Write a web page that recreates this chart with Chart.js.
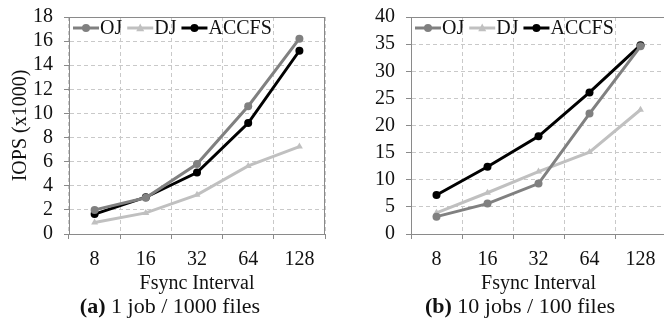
<!DOCTYPE html>
<html>
<head>
<meta charset="utf-8">
<script src="https://cdn.jsdelivr.net/npm/chart.js@4/dist/chart.umd.min.js"></script>
<style>
  html, body { margin:0; padding:0; overflow:hidden; }
  body { width:664px; height:329px; background:#fff; position:relative; }
  .box { position:absolute; top:0; height:300px; overflow:hidden; }
  .box canvas { display:block; }
  .cap { position:absolute; top:295px; font-family:"Liberation Serif"; font-size:22px; line-height:22px; color:#111; white-space:nowrap; transform:translateX(-50%); }
</style>
</head>
<body>
<div class="box" style="left:0;width:332px"><canvas id="ca" width="340" height="300"></canvas></div>
<div class="box" style="left:332px;width:332px"><canvas id="cb" width="340" height="300"></canvas></div>
<div class="cap" style="left:170px"><b>(a)</b> 1 job / 1000 files</div>
<div class="cap" style="left:520px"><b>(b)</b> 10 jobs / 100 files</div>
<script>
const categories = ['8', '16', '32', '64', '128'];
const seriesNames = ['OJ', 'DJ', 'ACCFS'];
// (a) 1 job / 1000 files, IOPS (x1000)
const ojA    = [2.0, 3.0, 5.8, 10.6, 16.2];
const djA    = [0.95, 1.75, 3.25, 5.65, 7.25];
const accfsA = [1.65, 3.05, 5.1, 9.2, 15.2];
// (b) 10 jobs / 100 files
const ojB    = [3.2, 5.6, 9.3, 22.2, 34.6];
const djB    = [3.9, 7.6, 11.5, 15.1, 22.9];
const accfsB = [7.2, 12.4, 18.0, 26.1, 34.8];
const yTicksA = {min: 0, max: 18, step: 2};
const yTicksB = {min: 0, max: 40, step: 5};

const colors = ['#808080', '#c0c0c0', '#000000'];
const styles = ['circle', 'triangle', 'circle'];
const AXIS = '#8a8a8a';
const GRID = '#c9c9c9';
const FONT = '"Liberation Serif"';
const FS = 20;

function drawMarker(ctx, style, x, y, r, color) {
  ctx.fillStyle = color;
  ctx.beginPath();
  if (style === 'triangle') {
    ctx.moveTo(x, y - r * 1.1);
    ctx.lineTo(x + r, y + r * 0.8);
    ctx.lineTo(x - r, y + r * 0.8);
    ctx.closePath();
  } else {
    ctx.arc(x, y, r, 0, Math.PI * 2);
  }
  ctx.fill();
}

function framePlugin(drawRight) {
  return {
    id: 'frame',
    beforeDatasetsDraw(chart) {
      const {ctx, chartArea: a} = chart;
      ctx.save();
      ctx.strokeStyle = AXIS;
      ctx.lineWidth = 1;
      ctx.beginPath();
      ctx.moveTo(a.left, a.top + 0.5);
      ctx.lineTo(a.right, a.top + 0.5);
      if (drawRight) {
        ctx.moveTo(a.right - 0.5, a.top);
        ctx.lineTo(a.right - 0.5, a.bottom);
      }
      ctx.stroke();
      ctx.restore();
    }
  };
}

const legendPlugin = {
  id: 'inLegend',
  afterDatasetsDraw(chart) {
    const {ctx, chartArea: a} = chart;
    let x = a.left + 4;
    const y = a.top + 11;
    ctx.save();
    ctx.font = FS + 'px ' + FONT;
    ctx.textBaseline = 'middle';
    ctx.textAlign = 'left';
    chart.data.datasets.forEach((ds, i) => {
      ctx.strokeStyle = ds.borderColor;
      ctx.lineWidth = 3;
      ctx.beginPath();
      ctx.moveTo(x, y);
      ctx.lineTo(x + 26, y);
      ctx.stroke();
      drawMarker(ctx, ds.pointStyle, x + 13, y, 4, ds.borderColor);
      ctx.fillStyle = '#111';
      ctx.fillText(ds.label, x + 27, y + 1);
      x += 27 + ctx.measureText(ds.label).width + 5;
    });
    ctx.restore();
  }
};

function makeChart(id, series, yt, yWidth, padRight, yTitle, drawRight) {
  const datasets = series.map((vals, i) => ({
    label: seriesNames[i],
    data: vals,
    borderColor: colors[i],
    backgroundColor: colors[i],
    borderWidth: 3,
    pointStyle: styles[i],
    pointRadius: 4,
    pointBorderWidth: 0,
    pointBackgroundColor: colors[i],
    tension: 0
  }));
  return new Chart(document.getElementById(id), {
    type: 'line',
    data: { labels: categories, datasets },
    plugins: [framePlugin(drawRight), legendPlugin],
    options: {
      responsive: false,
      animation: false,
      layout: { padding: { left: 0, right: padRight, top: 17, bottom: 0 } },
      plugins: { legend: { display: false }, tooltip: { enabled: false } },
      scales: {
        x: {
          type: 'category',
          offset: true,
          grid: { offset: true, color: GRID, tickColor: AXIS, tickLength: 5, lineWidth: 1 },
          border: { display: true, color: AXIS, dash: [4, 3] },
          ticks: { color: '#111', font: { family: FONT, size: FS }, padding: 9, maxRotation: 0, autoSkip: false },
          title: { display: true, text: 'Fsync Interval', color: '#111', font: { family: FONT, size: FS }, padding: { top: 0, bottom: 4 } },
          afterFit(s) { s.height = 66; s.paddingLeft = 0; s.paddingRight = 0; }
        },
        y: {
          min: yt.min, max: yt.max,
          grid: { color: GRID, tickColor: AXIS, tickLength: 5, lineWidth: 1 },
          border: { display: true, color: AXIS, dash: [4, 3] },
          ticks: { stepSize: yt.step, color: '#111', font: { family: FONT, size: FS }, padding: 11, autoSkip: false },
          title: { display: !!yTitle, text: yTitle || '', color: '#111', font: { family: FONT, size: FS }, padding: { top: 9, bottom: 0 } },
          afterFit(s) { s.width = yWidth; s.paddingTop = 0; s.paddingBottom = 0; }
        }
      }
    }
  });
}

makeChart('ca', [ojA, djA, accfsA], yTicksA, 69, 15, 'IOPS (x1000)', true);
makeChart('cb', [ojB, djB, accfsB], yTicksB, 79, 6, '', false);
</script>
</body>
</html>
